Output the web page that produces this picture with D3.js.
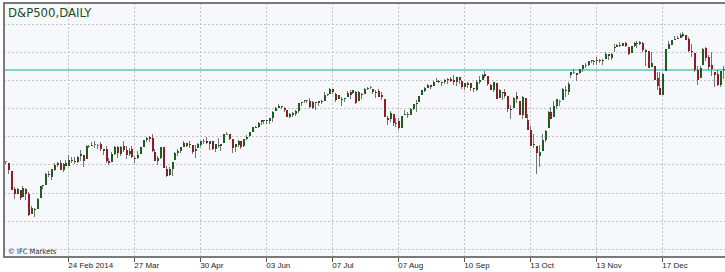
<!DOCTYPE html>
<html>
<head>
<meta charset="utf-8">
<script src="https://cdn.jsdelivr.net/npm/d3@7"></script>
<style>
  html, body { margin: 0; padding: 0; background: #fff; }
  svg { display: block; font-family: "DejaVu Sans Condensed", "DejaVu Sans", sans-serif; font-stretch: condensed; }
  .grid line { stroke: #c4c4c4; stroke-width: 1; stroke-dasharray: 2 2; shape-rendering: crispEdges; }
  .wick { stroke: #747474; stroke-width: 1; shape-rendering: crispEdges; }
  .body { shape-rendering: crispEdges; }
  .x-axis text { font-size: 8px; fill: #1e1e1e; }
  .x-axis line { stroke: #555; shape-rendering: crispEdges; }
</style>
</head>
<body>
<div class="chart"></div>
<script>
// D&P500 daily candles, 21 Jan 2014 .. 20 Jan 2015, one line per month
const opens = [
  1841, 1845, 1842, 1826, 1791, 1783, 1790, 1777, 1791,
  1783, 1744, 1753, 1753, 1774, 1797, 1800, 1820, 1815, 1829, 1839, 1841, 1829, 1842, 1837, 1848, 1846, 1844, 1855,
  1858, 1849, 1874, 1875, 1878, 1877, 1878, 1866, 1869, 1845, 1843, 1859, 1872, 1860, 1874, 1867, 1859, 1868, 1852, 1851, 1859,
  1873, 1887, 1892, 1891, 1864, 1845, 1852, 1873, 1830, 1818, 1831, 1847, 1861, 1865, 1872, 1880, 1876, 1876, 1865, 1871, 1877,
  1884, 1885, 1879, 1885, 1868, 1877, 1875, 1880, 1897, 1897, 1888, 1872, 1876, 1885, 1874, 1888, 1894, 1902, 1911, 1911, 1921,
  1924, 1923, 1923, 1928, 1942, 1949, 1950, 1949, 1944, 1931, 1934, 1937, 1942, 1958, 1961, 1963, 1962, 1949, 1959, 1957, 1961,
  1962, 1974, 1976, 1984, 1976, 1965, 1966, 1965, 1970, 1978, 1977, 1979, 1962, 1976, 1976, 1985, 1988, 1984, 1978, 1980, 1974, 1966,
  1929, 1926, 1936, 1917, 1923, 1910, 1934, 1936, 1935, 1947, 1958, 1959, 1973, 1980, 1987, 1992, 1991, 1998, 2001, 1998, 1999,
  2004, 2004, 2002, 1998, 2008, 2001, 1988, 1993, 1996, 1986, 1982, 1999, 2003, 2013, 2009, 1993, 1983, 1997, 1967, 1979, 1978,
  1972, 1945, 1949, 1971, 1962, 1935, 1968, 1925, 1905, 1877, 1874, 1855, 1865, 1886, 1909, 1941, 1931, 1951, 1962, 1964, 1983, 1979, 2011,
  2018, 2016, 2015, 2023, 2032, 2032, 2039, 2037, 2040, 2039, 2039, 2042, 2052, 2045, 2065, 2065, 2070, 2068, 2074,
  2066, 2054, 2067, 2074, 2072, 2074, 2057, 2058, 2028, 2030, 2006, 1986, 1974, 2019, 2062, 2070, 2081, 2083, 2084, 2087, 2089, 2082,
  2059, 2054, 2022, 2006, 2031, 2063, 2047, 2031, 2018, 2014, 1992, 2021
];
const highs = [
  1849, 1846, 1842, 1826, 1795, 1794, 1790, 1798, 1794,
  1785, 1759, 1756, 1774, 1798, 1800, 1823, 1826, 1830, 1841, 1843, 1847, 1842, 1847, 1858, 1853, 1853, 1855, 1867,
  1858, 1876, 1877, 1883, 1884, 1878, 1882, 1869, 1875, 1852, 1863, 1874, 1875, 1874, 1884, 1874, 1871, 1875, 1855, 1866, 1873,
  1886, 1893, 1894, 1897, 1869, 1855, 1872, 1873, 1836, 1834, 1844, 1863, 1869, 1872, 1884, 1880, 1884, 1876, 1877, 1880, 1885,
  1888, 1892, 1885, 1885, 1879, 1890, 1879, 1897, 1902, 1898, 1888, 1879, 1887, 1885, 1889, 1896, 1902, 1912, 1914, 1921, 1925,
  1925, 1925, 1929, 1942, 1950, 1955, 1951, 1950, 1945, 1938, 1941, 1944, 1958, 1960, 1964, 1964, 1968, 1961, 1959, 1961, 1964,
  1978, 1976, 1986, 1984, 1977, 1974, 1969, 1968, 1980, 1982, 1983, 1981, 1980, 1977, 1987, 1989, 1991, 1984, 1982, 1984, 1978, 1966,
  1932, 1943, 1936, 1928, 1929, 1932, 1944, 1940, 1948, 1956, 1964, 1972, 1982, 1988, 1994, 1993, 2001, 2006, 2003, 1999, 2004,
  2006, 2007, 2012, 2008, 2008, 2002, 1996, 1998, 1997, 1987, 2002, 2010, 2013, 2019, 2009, 1995, 1999, 1997, 1984, 1979, 1985,
  1972, 1953, 1969, 1978, 1962, 1971, 1968, 1936, 1913, 1898, 1874, 1876, 1898, 1905, 1942, 1950, 1961, 1965, 1964, 1986, 1991, 1999, 2018,
  2024, 2016, 2024, 2031, 2034, 2039, 2041, 2040, 2046, 2042, 2043, 2056, 2052, 2054, 2071, 2071, 2075, 2074, 2075,
  2066, 2068, 2076, 2077, 2077, 2076, 2061, 2058, 2056, 2030, 2018, 2017, 2016, 2062, 2077, 2079, 2087, 2087, 2093, 2094, 2089, 2085,
  2072, 2054, 2030, 2030, 2064, 2065, 2050, 2057, 2018, 2021, 2020, 2029
];
const lows = [
  1833, 1840, 1820, 1790, 1772, 1783, 1770, 1777, 1771,
  1740, 1744, 1738, 1753, 1774, 1792, 1800, 1815, 1809, 1826, 1835, 1828, 1825, 1836, 1837, 1842, 1840, 1842, 1846,
  1834, 1849, 1871, 1874, 1871, 1869, 1866, 1858, 1842, 1839, 1843, 1858, 1851, 1856, 1863, 1850, 1855, 1852, 1842, 1850, 1859,
  1873, 1883, 1883, 1864, 1845, 1838, 1849, 1832, 1815, 1816, 1816, 1847, 1856, 1861, 1872, 1873, 1871, 1859, 1851, 1871, 1872,
  1878, 1879, 1867, 1867, 1863, 1871, 1866, 1880, 1896, 1887, 1862, 1864, 1872, 1868, 1873, 1887, 1893, 1902, 1909, 1910, 1916,
  1917, 1918, 1918, 1922, 1942, 1948, 1946, 1940, 1930, 1929, 1930, 1933, 1938, 1952, 1958, 1958, 1948, 1947, 1945, 1952, 1956,
  1962, 1972, 1976, 1975, 1960, 1965, 1952, 1960, 1970, 1966, 1975, 1955, 1962, 1965, 1976, 1983, 1985, 1975, 1968, 1969, 1963, 1930,
  1916, 1921, 1913, 1911, 1905, 1909, 1934, 1929, 1935, 1945, 1941, 1959, 1973, 1978, 1987, 1984, 1991, 1998, 1996, 1991, 1995,
  1994, 1998, 1993, 1991, 1995, 1985, 1983, 1986, 1980, 1978, 1980, 1994, 2003, 2006, 1991, 1983, 1979, 1965, 1967, 1964, 1968,
  1941, 1926, 1949, 1958, 1935, 1926, 1928, 1906, 1874, 1871, 1821, 1835, 1865, 1882, 1909, 1927, 1931, 1946, 1951, 1964, 1970, 1974, 2006,
  2014, 2001, 2013, 2018, 2026, 2030, 2035, 2031, 2031, 2035, 2031, 2042, 2041, 2041, 2056, 2065, 2065, 2067, 2065,
  2050, 2054, 2065, 2064, 2070, 2056, 2030, 2025, 2028, 2002, 1982, 1973, 1974, 2019, 2061, 2070, 2080, 2081, 2084, 2086, 2079, 2057,
  2046, 2017, 1992, 2006, 2031, 2038, 2022, 2009, 1988, 1991, 1988, 2004
];
const closes = [
  1844, 1845, 1828, 1790, 1782, 1792, 1774, 1794, 1783,
  1742, 1755, 1752, 1773, 1797, 1800, 1820, 1819, 1830, 1839, 1841, 1829, 1840, 1836, 1848, 1845, 1845, 1854, 1859,
  1846, 1874, 1874, 1877, 1878, 1877, 1868, 1868, 1846, 1841, 1859, 1872, 1861, 1872, 1867, 1857, 1866, 1853, 1849, 1858, 1872,
  1886, 1891, 1889, 1865, 1845, 1852, 1872, 1833, 1816, 1831, 1843, 1862, 1865, 1872, 1880, 1875, 1879, 1863, 1869, 1878, 1884,
  1884, 1881, 1885, 1868, 1878, 1876, 1878, 1897, 1897, 1889, 1871, 1878, 1885, 1873, 1888, 1892, 1901, 1912, 1910, 1920, 1924,
  1925, 1924, 1928, 1940, 1949, 1951, 1951, 1944, 1930, 1936, 1938, 1942, 1957, 1959, 1963, 1963, 1950, 1960, 1957, 1961, 1960,
  1973, 1975, 1985, 1978, 1964, 1973, 1965, 1968, 1977, 1973, 1982, 1958, 1978, 1974, 1984, 1987, 1988, 1978, 1979, 1970, 1970, 1931,
  1925, 1939, 1920, 1920, 1910, 1932, 1937, 1934, 1947, 1955, 1955, 1972, 1982, 1987, 1992, 1988, 1998, 2000, 2000, 1997, 2003,
  2002, 2001, 1998, 2008, 2002, 1988, 1996, 1997, 1986, 1984, 1999, 2002, 2011, 2010, 1994, 1983, 1998, 1966, 1983, 1978, 1972,
  1946, 1946, 1968, 1965, 1935, 1969, 1928, 1906, 1875, 1878, 1862, 1863, 1887, 1904, 1941, 1927, 1951, 1965, 1962, 1985, 1982, 1995, 2018,
  2018, 2012, 2024, 2031, 2032, 2038, 2040, 2038, 2039, 2040, 2041, 2052, 2049, 2053, 2064, 2069, 2067, 2073, 2068,
  2053, 2067, 2074, 2072, 2075, 2060, 2060, 2026, 2035, 2002, 1990, 1973, 2013, 2061, 2071, 2079, 2082, 2082, 2089, 2091, 2080, 2059,
  2058, 2021, 2003, 2026, 2062, 2045, 2028, 2023, 2011, 1993, 2019, 2023
];

// exchange holidays skipped by the daily bars
const holidays = ['2014-02-17', '2014-04-18', '2014-05-26', '2014-07-04', '2014-09-01',
  '2014-11-27', '2014-12-25', '2015-01-01', '2015-01-19'];

const tickDates = ['2014-02-24', '2014-03-27', '2014-04-30', '2014-06-03', '2014-07-07',
  '2014-08-07', '2014-09-10', '2014-10-13', '2014-11-13', '2014-12-17'];
const tickLabels = ['24 Feb 2014', '27 Mar', '30 Apr', '03 Jun', '07 Jul',
  '07 Aug', '10 Sep', '13 Oct', '13 Nov', '17 Dec'];

const gridLevels = [2109.6, 2055.3, 2001.0, 1946.8, 1892.5, 1838.2, 1783.9, 1729.7, 1675.4];
const levelLine = 2021.4;
const priceRange = [1660.5, 2150.7];

const fmt = d3.utcFormat('%Y-%m-%d');
const parse = d3.utcParse('%Y-%m-%d');

class CandleChart {
    constructor() {
        this.width = 725;
        this.height = 272;
        this.frame = { left: 4, top: 3, right: 725, bottom: 257 };

        this.dates = d3.utcDay.range(parse('2014-01-21'), parse('2015-01-21'))
            .filter((d) => d.getUTCDay() % 6 !== 0 && !holidays.includes(fmt(d)))
            .map(fmt);
        this.data = this.dates.map((date, i) => ({
            date, open: opens[i], high: highs[i], low: lows[i], close: closes[i],
        }));

        this.appendSVG();
        this.scaleX();
        this.scaleY();
        this.addGrid();
        this.addLevelLine();
        this.addCandles();
        this.addFrame();
        this.addXAxis();
        this.addLabels();
    }

    appendSVG() {
        this.svg = d3.select('.chart')
            .append('svg')
            .attr('width', this.width)
            .attr('height', this.height);

        this.svg.append('defs').append('clipPath')
            .attr('id', 'plot-clip')
            .append('rect')
            .attr('x', this.frame.left)
            .attr('y', this.frame.top)
            .attr('width', this.frame.right - this.frame.left)
            .attr('height', this.frame.bottom - this.frame.top);

        this.svg.append('rect')
            .attr('x', this.frame.left)
            .attr('y', this.frame.top)
            .attr('width', this.frame.right - this.frame.left)
            .attr('height', this.frame.bottom - this.frame.top)
            .attr('fill', '#f7f8fc');
    }

    scaleX() {
        this.x = d3.scaleBand()
            .domain(this.dates)
            .range([0.86, 724])
            .padding(0);
    }

    scaleY() {
        this.y = d3.scaleLinear()
            .domain(priceRange)
            .range([this.frame.bottom, this.frame.top]);
    }

    center(date) {
        return this.x(date) + this.x.bandwidth() / 2;
    }

    addGrid() {
        const grid = this.svg.append('g').attr('class', 'grid');
        grid.selectAll('.h')
            .data(gridLevels)
            .enter()
            .append('line')
            .attr('x1', this.frame.left)
            .attr('x2', this.frame.right)
            .attr('y1', (d) => this.y(d))
            .attr('y2', (d) => this.y(d));
        grid.selectAll('.v')
            .data(tickDates)
            .enter()
            .append('line')
            .attr('x1', (d) => this.center(d))
            .attr('x2', (d) => this.center(d))
            .attr('y1', this.frame.top)
            .attr('y2', this.frame.bottom);
    }

    addLevelLine() {
        this.svg.append('line')
            .attr('x1', this.frame.left)
            .attr('x2', this.frame.right)
            .attr('y1', this.y(levelLine))
            .attr('y2', this.y(levelLine))
            .attr('stroke', '#7fd3cb')
            .attr('stroke-width', 2);
    }

    addCandles() {
        const g = this.svg.append('g').attr('clip-path', 'url(#plot-clip)');
        const candle = g.selectAll('.candle')
            .data(this.data)
            .enter()
            .append('g')
            .attr('class', 'candle');

        candle.append('line')
            .attr('class', 'wick')
            .attr('x1', (d) => Math.round(this.center(d.date)) + 0.5)
            .attr('x2', (d) => Math.round(this.center(d.date)) + 0.5)
            .attr('y1', (d) => this.y(d.high))
            .attr('y2', (d) => this.y(d.low));

        candle.append('rect')
            .attr('class', 'body')
            .attr('x', (d) => Math.round(this.center(d.date)) - 0.5)
            .attr('width', 2)
            .attr('y', (d) => this.y(Math.max(d.open, d.close)))
            .attr('height', (d) => Math.max(1, Math.abs(this.y(d.open) - this.y(d.close))))
            .attr('fill', (d) => {
                if (d.close > d.open) return '#1c5e22';
                if (d.close < d.open) return '#8c1c26';
                return '#747474';
            });
    }

    addFrame() {
        this.svg.append('path')
            .attr('d', `M${this.frame.right},${this.frame.top}H${this.frame.left}V${this.frame.bottom}H${this.frame.right}`)
            .attr('fill', 'none')
            .attr('stroke', '#7a7a7a')
            .attr('stroke-width', 2);
    }

    addXAxis() {
        const labelOf = new Map(tickDates.map((d, i) => [d, tickLabels[i]]));
        const axis = this.svg.append('g')
            .attr('class', 'x-axis')
            .attr('transform', `translate(0,${this.frame.bottom + 1})`)
            .call(d3.axisBottom(this.x)
                .tickValues(tickDates)
                .tickFormat((d) => labelOf.get(d))
                .tickSize(4)
                .tickSizeOuter(0));
        axis.select('.domain').remove();
        axis.selectAll('text')
            .attr('text-anchor', 'start')
            .attr('x', 0)
            .attr('y', 10)
            .attr('dy', null);
    }

    addLabels() {
        this.svg.append('text')
            .attr('x', 8)
            .attr('y', 17)
            .attr('fill', '#1b4d1b')
            .style('font-size', '13px')
            .text('D&P500,DAILY');

        this.svg.append('text')
            .attr('x', 8)
            .attr('y', 254)
            .attr('fill', '#333')
            .style('font-size', '7.5px')
            .text('\u00a9 IFC Markets');
    }
}

new CandleChart();
</script>
</body>
</html>
